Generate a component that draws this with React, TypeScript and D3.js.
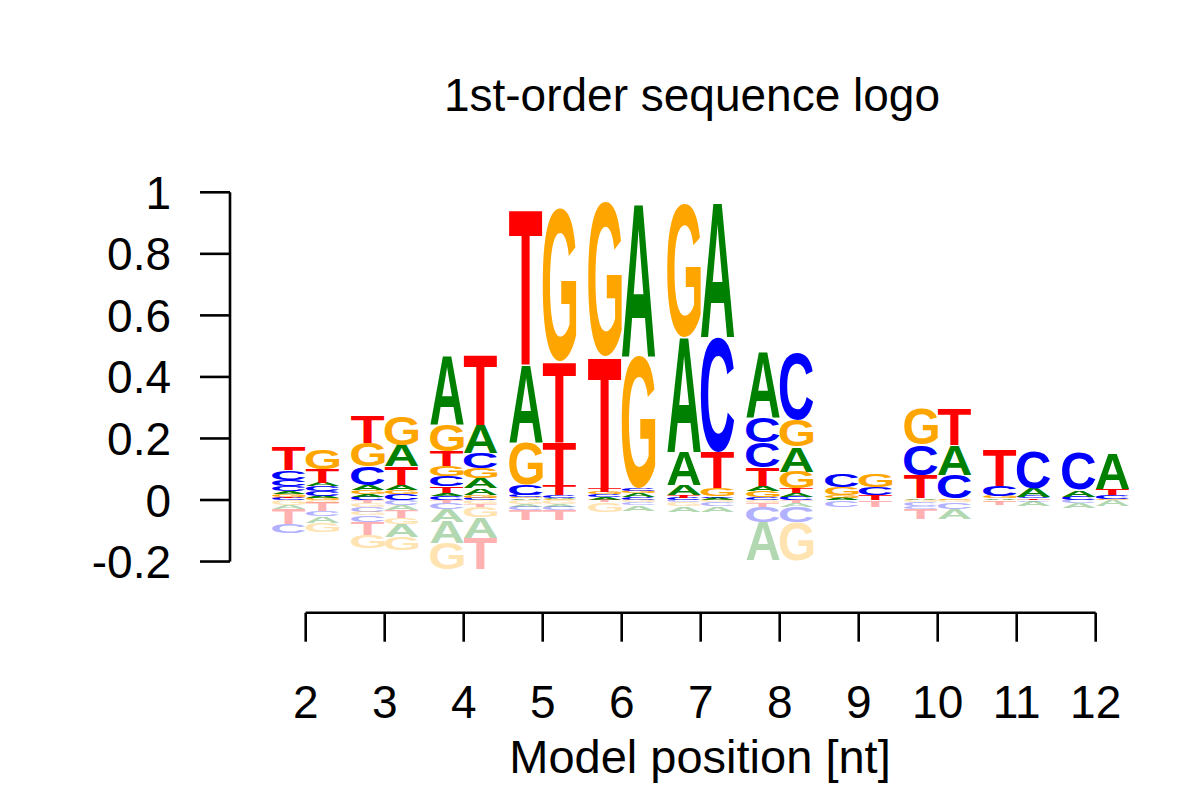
import { useMemo } from "react";
import * as d3 from "d3";

type Stack = [string, number][];

const positions = [2, 3, 4, 5, 6, 7, 8, 9, 10, 11, 12];
const yTicks = [-0.2, 0, 0.2, 0.4, 0.6, 0.8, 1];
const yTickLabels = ["-0.2", "0", "0.2", "0.4", "0.6", "0.8", "1"];

// positive part of each column, bottom to top
const leftUp: Stack[] = [
  [["C", 0.006], ["T", 0.004], ["G", 0.008], ["A", 0.01], ["C", 0.016], ["C", 0.022], ["C", 0.03], ["T", 0.075]],
  [["C", 0.011], ["A", 0.009], ["G", 0.013], ["A", 0.016], ["C", 0.06], ["G", 0.076], ["T", 0.087]],
  [["C", 0.012], ["A", 0.01], ["T", 0.022], ["C", 0.033], ["G", 0.033], ["T", 0.049], ["G", 0.087], ["A", 0.222]],
  [["A", 0.005], ["G", 0.005], ["C", 0.006], ["C", 0.033], ["G", 0.136], ["A", 0.254], ["T", 0.508]],
  [["A", 0.008], ["C", 0.01], ["G", 0.008], ["T", 0.012], ["T", 0.428], ["G", 0.5]],
  [["C", 0.008], ["T", 0.008], ["A", 0.033], ["A", 0.108], ["A", 0.374], ["G", 0.434]],
  [["C", 0.01], ["G", 0.02], ["A", 0.016], ["T", 0.06], ["C", 0.081], ["C", 0.081], ["A", 0.217]],
  [["A", 0.008], ["G", 0.008], ["G", 0.027], ["C", 0.043]],
  [["A", 0.005], ["T", 0.076], ["C", 0.098], ["G", 0.114]],
  [["A", 0.005], ["G", 0.006], ["C", 0.033], ["T", 0.119]],
  [["C", 0.011], ["A", 0.022], ["C", 0.119]],
];

const rightUp: Stack[] = [
  [["G", 0.006], ["A", 0.006], ["C", 0.016], ["C", 0.016], ["A", 0.011], ["T", 0.045], ["G", 0.063]],
  [["C", 0.02], ["G", 0.013], ["A", 0.016], ["T", 0.06], ["A", 0.07], ["G", 0.092]],
  [["C", 0.008], ["G", 0.008], ["A", 0.022], ["A", 0.033], ["G", 0.033], ["C", 0.049], ["A", 0.092], ["T", 0.228]],
  [["G", 0.004], ["A", 0.004], ["C", 0.008], ["T", 0.033], ["T", 0.141], ["T", 0.26], ["G", 0.498]],
  [["C", 0.01], ["A", 0.012], ["G", 0.008], ["C", 0.008], ["G", 0.428], ["A", 0.5]],
  [["A", 0.006], ["C", 0.005], ["G", 0.027], ["T", 0.119], ["C", 0.374], ["A", 0.44]],
  [["C", 0.011], ["A", 0.011], ["T", 0.016], ["G", 0.054], ["A", 0.081], ["G", 0.087], ["C", 0.217]],
  [["T", 0.016], ["C", 0.027], ["G", 0.041]],
  [["G", 0.005], ["C", 0.076], ["A", 0.098], ["T", 0.119]],
  [["T", 0.005], ["C", 0.006], ["A", 0.027], ["C", 0.119]],
  [["G", 0.004], ["C", 0.011], ["T", 0.022], ["A", 0.114]],
];

// negative part of each column, from zero downwards
const leftDown: Stack[] = [
  [["G", 0.016], ["A", 0.012], ["T", 0.05], ["C", 0.03]],
  [["T", 0.01], ["G", 0.012], ["C", 0.016], ["G", 0.011], ["C", 0.022], ["T", 0.043], ["G", 0.043]],
  [["T", 0.01], ["C", 0.02], ["A", 0.04], ["A", 0.07], ["G", 0.087]],
  [["G", 0.012], ["A", 0.01], ["C", 0.011], ["T", 0.033]],
  [["T", 0.008], ["G", 0.03]],
  [["C", 0.008], ["G", 0.012], ["A", 0.018]],
  [["G", 0.01], ["T", 0.012], ["C", 0.049], ["A", 0.125]],
  [["C", 0.022]],
  [["G", 0.008], ["C", 0.012], ["C", 0.008], ["T", 0.033]],
  [["G", 0.005], ["T", 0.012]],
  [["C", 0.011], ["A", 0.016]],
];

const rightDown: Stack[] = [
  [["G", 0.01], ["T", 0.027], ["C", 0.016], ["A", 0.022], ["G", 0.03]],
  [["C", 0.016], ["A", 0.016], ["T", 0.025], ["G", 0.02], ["A", 0.043], ["G", 0.043]],
  [["G", 0.012], ["T", 0.01], ["G", 0.033], ["A", 0.068], ["T", 0.1]],
  [["G", 0.012], ["A", 0.01], ["C", 0.011], ["T", 0.033]],
  [["G", 0.008], ["C", 0.01], ["A", 0.018]],
  [["G", 0.008], ["C", 0.012], ["A", 0.018]],
  [["T", 0.01], ["A", 0.012], ["C", 0.049], ["G", 0.125]],
  [["T", 0.022]],
  [["G", 0.006], ["C", 0.022], ["A", 0.033]],
  [["C", 0.005], ["A", 0.016]],
  [["A", 0.02]],
];

const letterColors: Record<string, string> = {
  A: "#008000",
  C: "#0000ff",
  G: "#ffa500",
  T: "#ff0000",
};

const FONT = "Liberation Sans, Arial, Helvetica, sans-serif";
const GLYPH_FONT = "Liberation Sans";

interface Glyph {
  left: number;
  right: number;
  ascent: number;
  descent: number;
}

function measureGlyphs(): Record<string, Glyph> {
  const out: Record<string, Glyph> = {};
  const ctx = document.createElement("canvas").getContext("2d");
  for (const L of ["A", "C", "G", "T"]) {
    if (!ctx) {
      out[L] = { left: 0, right: 72, ascent: 72, descent: 0 };
      continue;
    }
    ctx.font = `bold 100px "${GLYPH_FONT}"`;
    const m = ctx.measureText(L);
    out[L] = {
      left: m.actualBoundingBoxLeft,
      right: m.actualBoundingBoxRight,
      ascent: m.actualBoundingBoxAscent,
      descent: m.actualBoundingBoxDescent,
    };
  }
  return out;
}

interface Box {
  letter: string;
  x: number;
  y: number;
  w: number;
  h: number;
  faded: boolean;
}

export default function App() {
  const width = 1200;
  const height = 800;

  const x = d3.scaleLinear().domain([2, 12]).range([305.7, 1095.7]);
  const y = d3.scaleLinear().domain([0, 1]).range([500, 192.3]);
  const colW = (x(3) - x(2)) * 0.425;

  const glyphs = useMemo(() => measureGlyphs(), []);

  const boxes = useMemo(() => {
    const list: Box[] = [];
    const addColumn = (x0: number, up: Stack, down: Stack) => {
      let base = 0;
      for (const [L, v] of up) {
        const top = base + v;
        list.push({ letter: L, x: x0, y: y(top), w: colW, h: y(base) - y(top), faded: false });
        base = top;
      }
      base = 0;
      for (const [L, v] of down) {
        const bottom = base - v;
        list.push({ letter: L, x: x0, y: y(base), w: colW, h: y(bottom) - y(base), faded: true });
        base = bottom;
      }
    };
    positions.forEach((p, i) => {
      addColumn(x(p) - colW, leftUp[i], leftDown[i]);
      addColumn(x(p), rightUp[i], rightDown[i]);
    });
    return list;
  }, []);

  return (
    <svg
      width={width}
      height={height}
      style={{ position: "absolute", left: 0, top: 0, background: "#fff" }}
    >
      <text x={692} y={110.7} textAnchor="middle" fontFamily={FONT} fontSize={46}>
        1st-order sequence logo
      </text>

      {boxes
        .filter((b) => b.h > 0.2)
        .map((b, i) => {
          const g = glyphs[b.letter];
          const sx = b.w / (g.left + g.right);
          const sy = b.h / (g.ascent + g.descent);
          return (
            <text
              key={i}
              transform={`translate(${b.x},${b.y}) scale(${sx},${sy}) translate(${g.left},${g.ascent})`}
              fontFamily={GLYPH_FONT}
              fontWeight="bold"
              fontSize={100}
              fill={letterColors[b.letter]}
              opacity={b.faded ? 0.3 : 1}
            >
              {b.letter}
            </text>
          );
        })}

      {/* y axis */}
      <g stroke="#000" strokeWidth={2.6} fill="none">
        <line x1={230} x2={230} y1={y(-0.2)} y2={y(1)} />
        {yTicks.map((t) => (
          <line key={t} x1={200} x2={230} y1={y(t)} y2={y(t)} />
        ))}
      </g>
      {yTicks.map((t, i) => (
        <text
          key={t}
          x={171}
          y={y(t) + 16.5}
          textAnchor="end"
          fontFamily={FONT}
          fontSize={46}
        >
          {yTickLabels[i]}
        </text>
      ))}

      {/* x axis */}
      <g stroke="#000" strokeWidth={2.6} fill="none">
        <line x1={x(2)} x2={x(12)} y1={612.7} y2={612.7} />
        {positions.map((p) => (
          <line key={p} x1={x(p)} x2={x(p)} y1={612.7} y2={641.7} />
        ))}
      </g>
      {positions.map((p) => (
        <text key={p} x={x(p)} y={717.7} textAnchor="middle" fontFamily={FONT} fontSize={46}>
          {p}
        </text>
      ))}
      <text x={700} y={773.3} textAnchor="middle" fontFamily={FONT} fontSize={47}>
        Model position [nt]
      </text>
    </svg>
  );
}
